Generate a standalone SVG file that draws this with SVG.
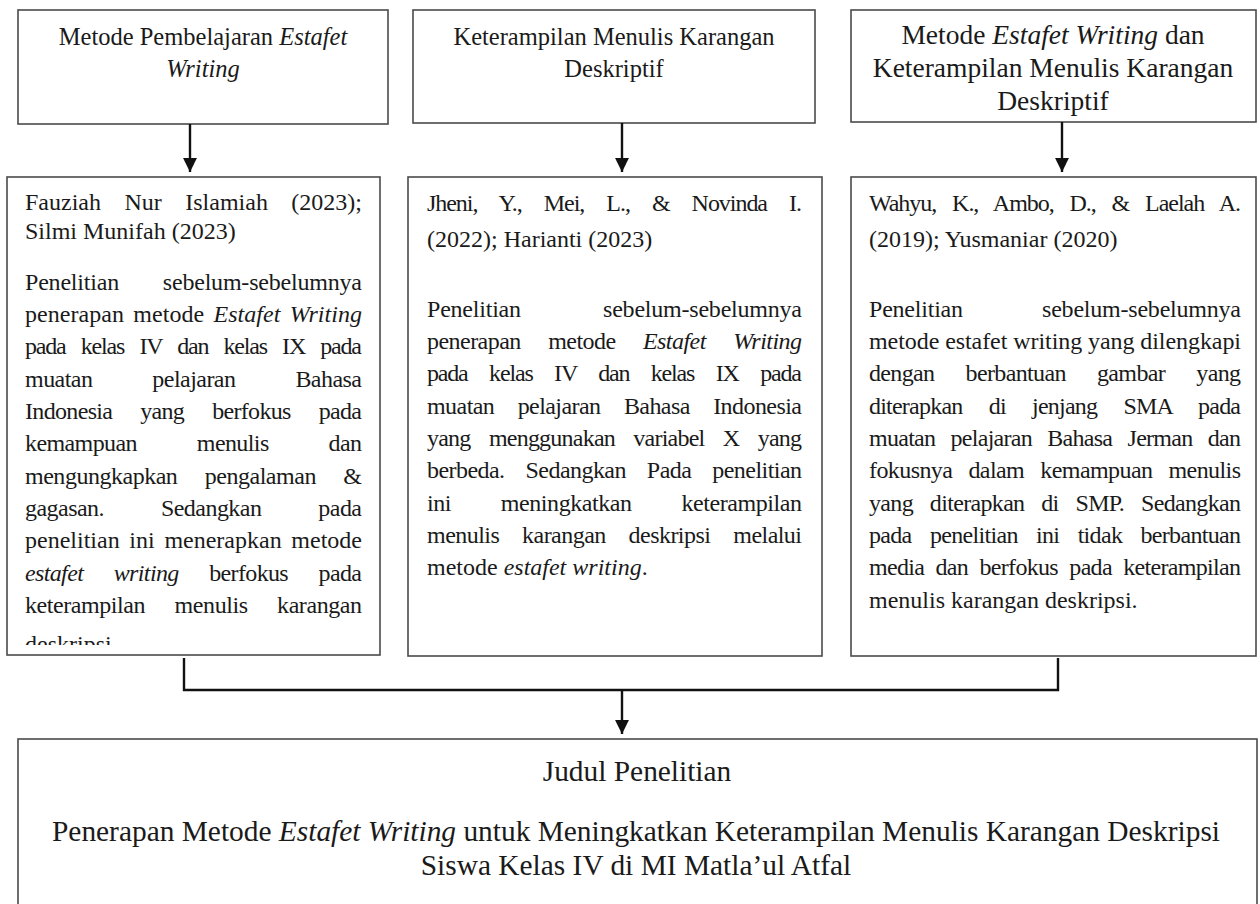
<svg xmlns="http://www.w3.org/2000/svg" width="1260" height="904" viewBox="0 0 1260 904">
<style>
.box{fill:#fff;stroke:#4a4a4a;stroke-width:1.6}
.t{font-family:"Liberation Serif","Times New Roman",serif;fill:#1a1a1a}
.s24{font-size:24px}
.s25{font-size:24.5px}
.s29{font-size:29.4px}
.s27{font-size:27.5px}
.c{text-anchor:middle}
.i{font-style:italic}
.ln{stroke:#111;stroke-width:2.4;fill:none}
</style>
<defs>
<marker id="ah" viewBox="0 0 10 10" refX="10" refY="5" markerWidth="5.8" markerHeight="6" orient="auto" markerUnits="strokeWidth">
<path d="M0,0 L10,5 L0,10 z" fill="#111"/>
</marker>
<clipPath id="clipL"><rect x="8" y="178" width="371" height="467"/></clipPath>
</defs>
<rect width="1260" height="904" fill="#fff"/>

<g id="top1">
<rect class="box" x="18" y="10" width="370" height="114"/>
<text class="t s25 c" x="203" y="45">Metode Pembelajaran <tspan class="i">Estafet</tspan></text>
<text class="t s25 c i" x="203" y="77">Writing</text>
</g>

<g id="top2">
<rect class="box" x="413" y="10" width="402" height="113"/>
<text class="t s25 c" x="614" y="45">Keterampilan Menulis Karangan</text>
<text class="t s25 c" x="614" y="77">Deskriptif</text>
</g>

<g id="top3">
<rect class="box" x="851" y="10" width="405" height="112"/>
<text class="t c s27" x="1053" y="44">Metode <tspan class="i">Estafet Writing</tspan> dan</text>
<text class="t c s27" x="1053" y="77">Keterampilan Menulis Karangan</text>
<text class="t c s27" x="1053" y="110">Deskriptif</text>
</g>

<g id="ref1">
<rect class="box" x="7" y="177" width="373" height="478"/>
<g clip-path="url(#clipL)" class="t s24">
<text x="25" y="210" textLength="337" lengthAdjust="spacing" word-spacing="17.5">Fauziah Nur Islamiah (2023);</text>
<text x="25" y="239">Silmi Munifah (2023)</text>
<text x="25" y="290" textLength="337" lengthAdjust="spacing" word-spacing="38">Penelitian sebelum-sebelumnya</text>
<text x="25" y="322" textLength="337" lengthAdjust="spacing" word-spacing="3.2">penerapan metode <tspan class="i">Estafet Writing</tspan></text>
<text x="25" y="354" textLength="337" lengthAdjust="spacing" word-spacing="10.4">pada kelas IV dan kelas IX pada</text>
<text x="25" y="387" textLength="337" lengthAdjust="spacing" word-spacing="54.5">muatan pelajaran Bahasa</text>
<text x="25" y="419" textLength="337" lengthAdjust="spacing" word-spacing="22.6">Indonesia yang berfokus pada</text>
<text x="25" y="451" textLength="337" lengthAdjust="spacing" word-spacing="54.5">kemampuan menulis dan</text>
<text x="25" y="484" textLength="337" lengthAdjust="spacing" word-spacing="21.9">mengungkapkan pengalaman &amp;</text>
<text x="25" y="516" textLength="337" lengthAdjust="spacing" word-spacing="51.5">gagasan. Sedangkan pada</text>
<text x="25" y="548" textLength="337" lengthAdjust="spacing" word-spacing="3.7">penelitian ini menerapkan metode</text>
<text x="25" y="581" textLength="337" lengthAdjust="spacing" word-spacing="25.2"><tspan class="i">estafet writing</tspan> berfokus pada</text>
<text x="25" y="613" textLength="337" lengthAdjust="spacing" word-spacing="23.9">keterampilan menulis karangan</text>
<text x="25" y="652">deskripsi.</text>
</g>
</g>

<g id="ref2" class="t s24">
<rect class="box" x="408" y="177" width="414" height="479"/>
<text x="427" y="211" textLength="375" lengthAdjust="spacing" word-spacing="17.1">Jheni, Y., Mei, L., &amp; Novinda I.</text>
<text x="427" y="247">(2022); Harianti (2023)</text>
<text x="427" y="317" textLength="375" lengthAdjust="spacing" word-spacing="76.4">Penelitian sebelum-sebelumnya</text>
<text x="427" y="349" textLength="375" lengthAdjust="spacing" word-spacing="21.9">penerapan metode <tspan class="i">Estafet Writing</tspan></text>
<text x="427" y="381" textLength="375" lengthAdjust="spacing" word-spacing="16.7">pada kelas IV dan kelas IX pada</text>
<text x="427" y="414" textLength="375" lengthAdjust="spacing" word-spacing="17.9">muatan pelajaran Bahasa Indonesia</text>
<text x="427" y="446" textLength="375" lengthAdjust="spacing" word-spacing="13.1">yang menggunakan variabel X yang</text>
<text x="427" y="478" textLength="375" lengthAdjust="spacing" word-spacing="15.5">berbeda. Sedangkan Pada penelitian</text>
<text x="427" y="511" textLength="375" lengthAdjust="spacing" word-spacing="44.2">ini meningkatkan keterampilan</text>
<text x="427" y="543" textLength="375" lengthAdjust="spacing" word-spacing="17.4">menulis karangan deskripsi melalui</text>
<text x="427" y="575">metode <tspan class="i">estafet writing</tspan>.</text>
</g>

<g id="ref3" class="t s24">
<rect class="box" x="851" y="177" width="405" height="479"/>
<text x="869" y="211" textLength="372" lengthAdjust="spacing" word-spacing="10.8">Wahyu, K., Ambo, D., &amp; Laelah A.</text>
<text x="869" y="247">(2019); Yusmaniar (2020)</text>
<text x="869" y="317" textLength="372" lengthAdjust="spacing" word-spacing="73.4">Penelitian sebelum-sebelumnya</text>
<text x="869" y="349" textLength="372" lengthAdjust="spacing">metode estafet writing yang dilengkapi</text>
<text x="869" y="381" textLength="372" lengthAdjust="spacing" word-spacing="25.8">dengan berbantuan gambar yang</text>
<text x="869" y="414" textLength="372" lengthAdjust="spacing" word-spacing="21">diterapkan di jenjang SMA pada</text>
<text x="869" y="446" textLength="372" lengthAdjust="spacing" word-spacing="10">muatan pelajaran Bahasa Jerman dan</text>
<text x="869" y="478" textLength="372" lengthAdjust="spacing" word-spacing="10.7">fokusnya dalam kemampuan menulis</text>
<text x="869" y="511" textLength="372" lengthAdjust="spacing" word-spacing="11.5">yang diterapkan di SMP. Sedangkan</text>
<text x="869" y="543" textLength="372" lengthAdjust="spacing" word-spacing="13">pada penelitian ini tidak berbantuan</text>
<text x="869" y="575" textLength="372" lengthAdjust="spacing" word-spacing="6">media dan berfokus pada keterampilan</text>
<text x="869" y="608">menulis karangan deskripsi.</text>
</g>

<g id="judul" class="t s29">
<rect class="box" x="18" y="739" width="1239" height="200"/>
<text class="c" x="637" y="781">Judul Penelitian</text>
<text class="c" x="636" y="841">Penerapan Metode <tspan class="i">Estafet Writing</tspan> untuk Meningkatkan Keterampilan Menulis Karangan Deskripsi</text>
<text class="c" x="636" y="875">Siswa Kelas IV di MI Matla’ul Atfal</text>
</g>

<g id="connectors">
<line class="ln" x1="190" y1="124" x2="190" y2="172" marker-end="url(#ah)"/>
<line class="ln" x1="622" y1="123" x2="622" y2="172" marker-end="url(#ah)"/>
<line class="ln" x1="1062" y1="122" x2="1062" y2="172" marker-end="url(#ah)"/>
<polyline class="ln" points="184,658 184,690 1058,690 1058,658"/>
<line class="ln" x1="622" y1="690" x2="622" y2="734" marker-end="url(#ah)"/>
</g>
</svg>
